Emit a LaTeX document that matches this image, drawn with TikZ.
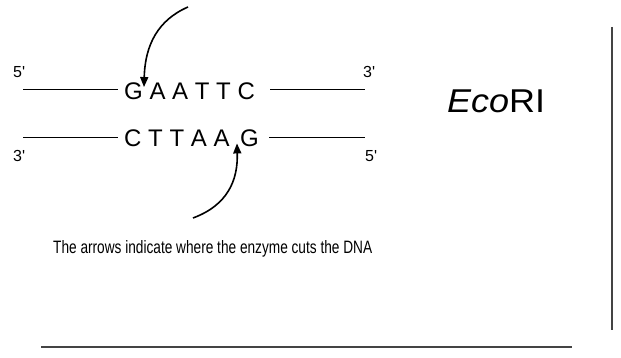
\documentclass[tikz,border=0pt]{standalone}
\usepackage{fontspec}
\setmainfont{Liberation Sans}
\usepackage{tikz}
\usetikzlibrary{calc,arrows.meta}
\definecolor{FrameGray}{RGB}{68,68,68}
\tikzset{
  strand/.style={draw=black,line width=1pt},
  seq/.style={inner sep=0pt,anchor=base west,font=\fontsize{24}{24}\selectfont},
  endlabel/.style={inner sep=0pt,anchor=base west,font=\fontsize{16}{16}\selectfont},
  cut/.style={draw=black,line width=1.6pt,-{Triangle[length=10pt,width=8pt]}},
  frame/.style={draw=FrameGray,line width=2pt},
}

\begin{document}
\begin{tikzpicture}[x=1pt,y=-1pt]
\useasboundingbox (0,0) rectangle (621,358);
% the two strands
\node[seq] (topseq) at (124,100) {G A A T T C};
\node[seq] (botseq) at (124,147) {C T T A A\hspace{4pt} G};
\coordinate (t5) at (23,90);
\coordinate (t3) at (365,90);
\coordinate (b3) at (23,137.5);
\coordinate (b5) at (365,137.5);
\draw[strand] (t5) -- ($(t5 -| topseq.west)+(-6,0)$);
\draw[strand] ($(t3 -| topseq.east)+(15,0)$) -- (t3);
\draw[strand] (b3) -- ($(b3 -| botseq.west)+(-6,0)$);
\draw[strand] ($(b5 -| botseq.east)+(10,0)$) -- (b5);
\node[endlabel] (lab5a) at (13,78) {5\textquotesingle};
\node[endlabel] (lab3a) at (363,78) {3\textquotesingle};
\node[endlabel] (lab3b) at (13,162) {3\textquotesingle};
\node[endlabel] (lab5b) at (365,162) {5\textquotesingle};
% cut sites
\coordinate (toptail) at (188,7);
\coordinate (bottail) at (193,218);
\draw[cut] (toptail) .. controls (158,20) and (145,45) .. ($(topseq.north west)+(20,4)$);
\draw[cut] (bottail) .. controls (228,205) and (238,180) .. ($(botseq.south west)+(113,-4)$);
\node[inner sep=0pt,anchor=base west,font=\fontsize{33}{33}\selectfont] (enzyme) at (447,113)
  {\scalebox{1.09}[1]{\itshape Eco\upshape RI}};
\node[inner sep=0pt,anchor=base west] (caption) at (53,254)
  {\resizebox{319pt}{13pt}{The arrows indicate where the enzyme cuts the DNA}};
% frame
\coordinate (v1) at (612,27);
\coordinate (v2) at (612,330);
\coordinate (h1) at (41,347);
\coordinate (h2) at (572,347);
\draw[frame] (v1) -- (v2);
\draw[frame] (h1) -- (h2);
\end{tikzpicture}
\end{document}
